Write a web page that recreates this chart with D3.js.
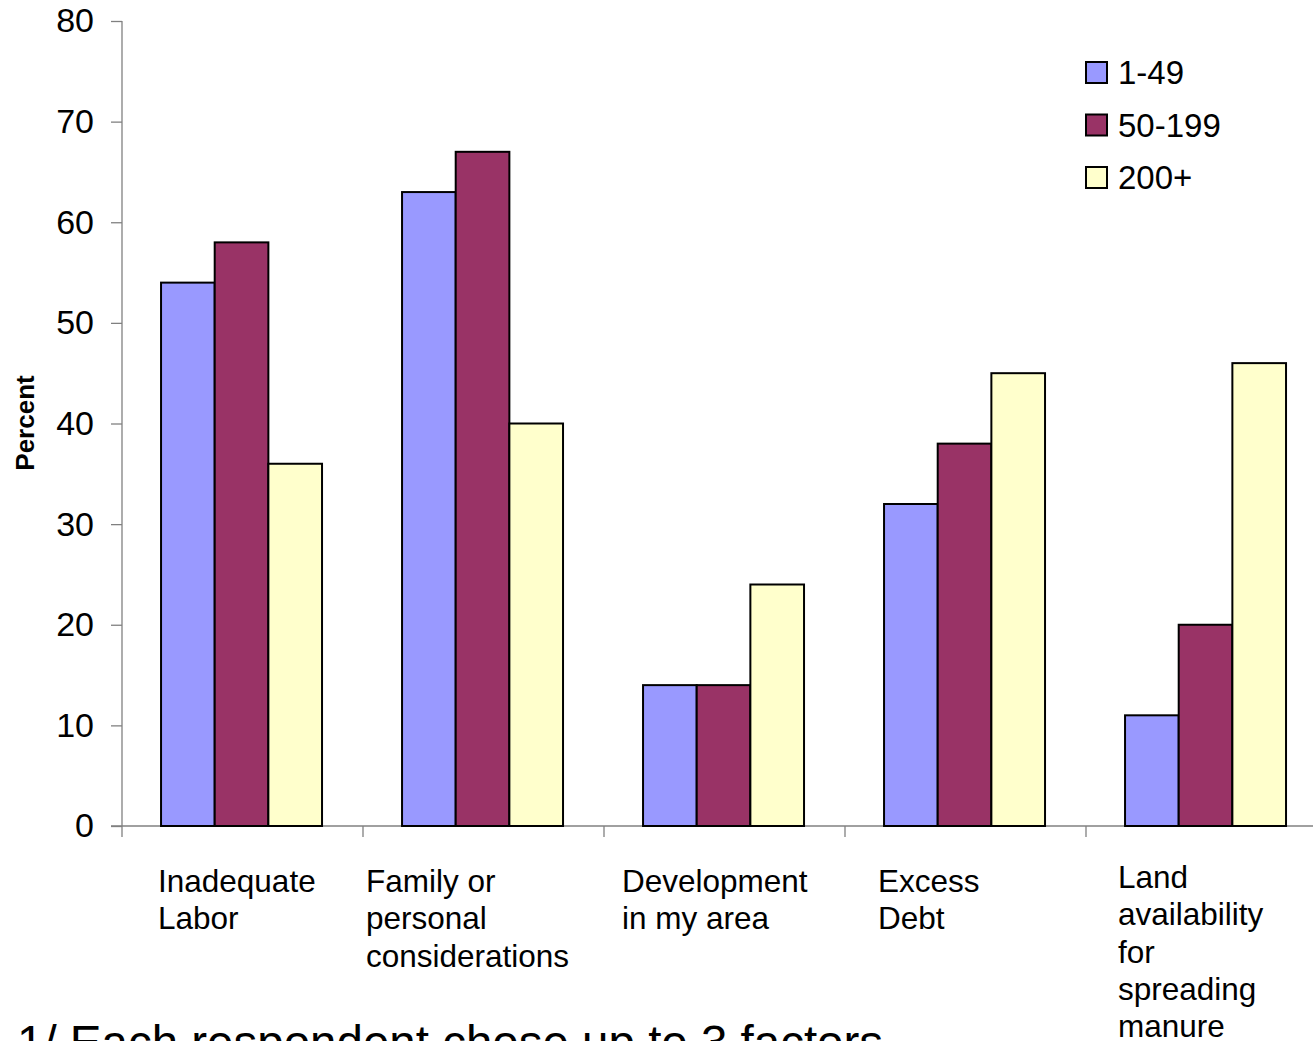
<!DOCTYPE html>
<html>
<head>
<meta charset="utf-8">
<script src="https://cdn.jsdelivr.net/npm/d3@7"></script>
<style>
  html, body { margin: 0; padding: 0; background: #fff; overflow: hidden; }
  svg { display: block; font-family: "Liberation Sans", Arial, sans-serif; }
</style>
</head>
<body>
<svg id="chart" width="1313" height="1041"></svg>
<script>
const categories = ["Inadequate Labor", "Family or personal considerations", "Development in my area", "Excess Debt", "Land availability for spreading manure"];
const categoryLines = [["Inadequate", "Labor"], ["Family or", "personal", "considerations"], ["Development", "in my area"], ["Excess", "Debt"], ["Land", "availability", "for", "spreading", "manure"]];
const seriesNames = ["1-49", "50-199", "200+"];
const values1_49 = [54, 63, 14, 32, 11];
const values50_199 = [58, 67, 14, 38, 20];
const values200 = [36, 40, 24, 45, 46];
const seriesColors = ["#9999FF", "#993366", "#FFFFCC"];
const yTicks = [0, 10, 20, 30, 40, 50, 60, 70, 80];
const footnote = "1/ Each respondent chose up to 3 factors";

const seriesValues = [values1_49, values50_199, values200];
const svg = d3.select("#chart");

const x0 = d3.scaleBand().domain(categories).range([122, 1327]).padding(0);
const bw = x0.bandwidth();
const x1 = d3.scaleBand().domain(seriesNames).range([bw * 0.162, bw * 0.83]).padding(0);
const y = d3.scaleLinear().domain([0, 80]).range([826, 21]);

// Y axis
const yAxis = svg.append("g").attr("transform", "translate(122,0)")
  .call(d3.axisLeft(y).tickValues(yTicks).tickSize(11).tickPadding(28).tickFormat(d3.format("d")));
yAxis.select(".domain").attr("stroke", "#808080").attr("stroke-width", 1.3).attr("d", "M0,21V826");
yAxis.selectAll(".tick line").attr("stroke", "#808080").attr("stroke-width", 1.3);
yAxis.selectAll(".tick text").attr("font-size", 34).attr("fill", "#000").attr("x", -28)
  .attr("font-family", "'Liberation Sans', Arial, sans-serif");

// X axis
const xAxis = svg.append("g").attr("transform", "translate(0,826)");
xAxis.append("line").attr("x1", 111).attr("x2", 1313).attr("y1", 0).attr("y2", 0)
  .attr("stroke", "#808080").attr("stroke-width", 1.3);
const tickPos = categories.map(c => x0(c));
xAxis.selectAll("line.xt").data(tickPos).join("line").attr("class", "xt")
  .attr("x1", d => d).attr("x2", d => d).attr("y1", 0).attr("y2", 11)
  .attr("stroke", "#808080").attr("stroke-width", 1.3);

// Bars
const groups = svg.selectAll("g.cat").data(categories).join("g").attr("class", "cat")
  .attr("transform", c => `translate(${x0(c)},0)`);
groups.selectAll("rect").data((c, i) => seriesNames.map((s, j) => ({ s, v: seriesValues[j][i], j })))
  .join("rect")
  .attr("x", d => x1(d.s))
  .attr("width", x1.bandwidth())
  .attr("y", d => y(d.v))
  .attr("height", d => y(0) - y(d.v))
  .attr("fill", d => seriesColors[d.j])
  .attr("stroke", "#000").attr("stroke-width", 2);

// Category labels
const labelX = [158, 366, 622, 878, 1118];
const labelFirstY = [892, 892, 892, 892, 888];
categoryLines.forEach((lines, i) => {
  const t = svg.append("text").attr("font-size", 31.5).attr("fill", "#000");
  lines.forEach((ln, k) => {
    t.append("tspan").attr("x", labelX[i]).attr("y", labelFirstY[i] + k * 37.3).text(ln);
  });
});

// Y title
svg.append("text").attr("transform", "translate(34,423) rotate(-90)")
  .attr("text-anchor", "middle").attr("font-size", 26).attr("font-weight", "bold").text("Percent");

// Legend
const legend = svg.append("g");
seriesNames.forEach((s, i) => {
  const yy = 62 + i * 52.5;
  legend.append("rect").attr("x", 1086).attr("y", yy).attr("width", 21).attr("height", 21)
    .attr("fill", seriesColors[i]).attr("stroke", "#000").attr("stroke-width", 2);
  legend.append("text").attr("x", 1118).attr("y", yy + 22).attr("font-size", 33).text(s);
});

// Footnote
svg.append("text").attr("x", 17).attr("y", 1059).attr("font-size", 47.5).text(footnote);
</script>
</body>
</html>
